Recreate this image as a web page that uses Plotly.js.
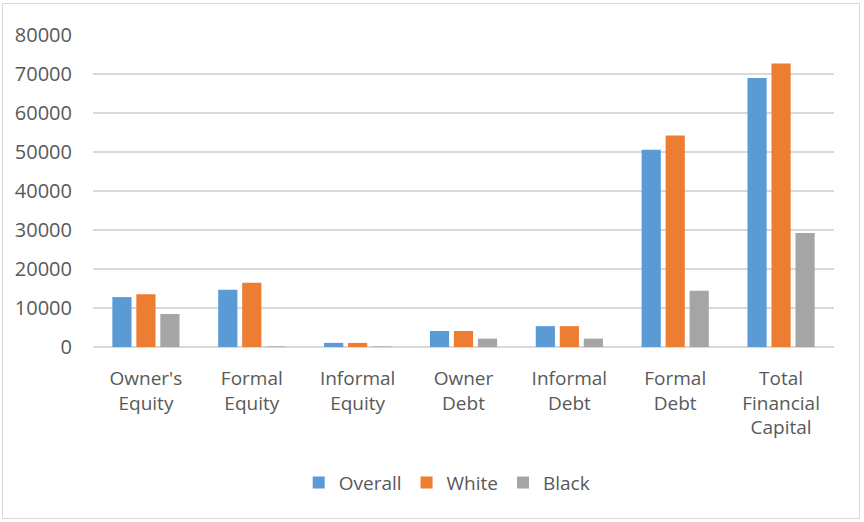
<!DOCTYPE html>
<html>
<head>
<meta charset="utf-8">
<script src="https://cdn.plot.ly/plotly-3.0.1.min.js"></script>
<style>
html,body{margin:0;padding:0;background:#fff;}
#wrap{position:absolute;left:2px;top:3px;width:858px;height:516px;border:1px solid #d9d9d9;box-sizing:border-box;}
#chart{position:absolute;left:0;top:0;width:864px;height:522px;}
</style>
</head>
<body>
<div id="wrap"></div>
<div id="chart"></div>
<script>
const categories = ["Owner's<br>Equity", "Formal<br>Equity", "Informal<br>Equity", "Owner<br>Debt", "Informal<br>Debt", "Formal<br>Debt", "Total<br>Financial<br>Capital"];
const overall = [12800, 14700, 1050, 4100, 5350, 50600, 69000];
const white   = [13500, 16500, 1050, 4100, 5350, 54200, 72700];
const black   = [8450, 150, 150, 2150, 2150, 14400, 29200];
const yTicks = [0, 10000, 20000, 30000, 40000, 50000, 60000, 70000, 80000];

const font = "Open Sans, Noto Sans, sans-serif";
const traces = [
  {name: "Overall", y: overall, color: "#5b9bd5"},
  {name: "White", y: white, color: "#ed7d31"},
  {name: "Black", y: black, color: "#a5a5a5"}
].map(s => ({
  type: "bar", name: s.name, x: categories, y: s.y,
  marker: {color: s.color}, hoverinfo: "none"
}));

const layout = {
  width: 864, height: 522,
  paper_bgcolor: "rgba(0,0,0,0)", plot_bgcolor: "rgba(0,0,0,0)",
  margin: {l: 93, r: 30, t: 35, b: 175},
  barmode: "group", bargap: 0.32, bargroupgap: 0.2,
  font: {family: font, color: "#595959", size: 18},
  xaxis: {
    type: "category", showgrid: false, showline: false, zeroline: false,
    ticks: "", tickfont: {size: 19, color: "#595959"}, ticklabelstandoff: 18
  },
  yaxis: {
    range: [0, 80000], tickvals: yTicks, ticktext: yTicks.map(String),
    showgrid: true, gridcolor: "#d9d9d9", gridwidth: 1.5,
    zeroline: true, zerolinecolor: "#d9d9d9", zerolinewidth: 1.5,
    showline: false, ticks: "", tickfont: {size: 20, color: "#595959"},
    ticklabelstandoff: 20
  },
  legend: {
    orientation: "h", x: 0.478, xanchor: "center", y: -0.435, yanchor: "middle",
    font: {size: 19, color: "#595959"}, itemwidth: 30, traceorder: "normal"
  },
  showlegend: true
};

Plotly.newPlot("chart", traces, layout, {staticPlot: true, displayModeBar: false});
</script>
</body>
</html>
